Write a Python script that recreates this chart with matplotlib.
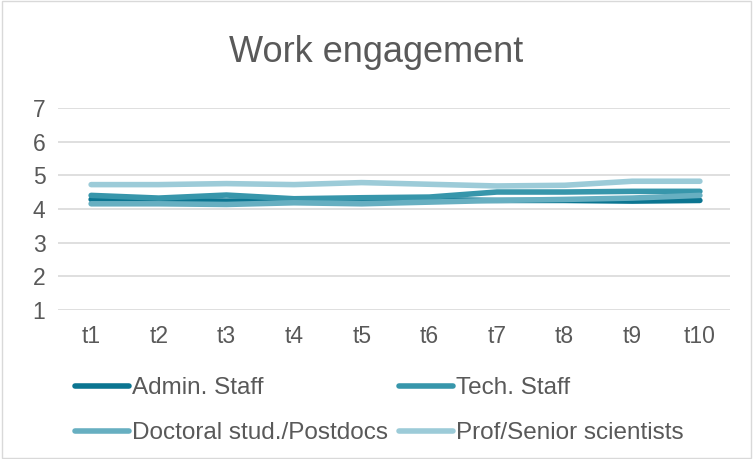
import matplotlib.pyplot as plt
import matplotlib.patches as patches

plt.rcParams['font.family'] = ['Liberation Sans', 'DejaVu Sans']

times = ['t1', 't2', 't3', 't4', 't5', 't6', 't7', 't8', 't9', 't10']
admin = [4.28, 4.25, 4.23, 4.25, 4.28, 4.27, 4.25, 4.25, 4.23, 4.25]
tech = [4.40, 4.32, 4.41, 4.30, 4.33, 4.35, 4.50, 4.50, 4.52, 4.52]
doctoral = [4.15, 4.15, 4.13, 4.18, 4.15, 4.20, 4.25, 4.28, 4.32, 4.40]
prof = [4.72, 4.72, 4.75, 4.72, 4.78, 4.73, 4.68, 4.70, 4.82, 4.82]

series = [
    ('Admin. Staff', admin, '#0b7591'),
    ('Tech. Staff', tech, '#3796ab'),
    ('Doctoral stud./Postdocs', doctoral, '#67afc1'),
    ('Prof/Senior scientists', prof, '#9ccbd8'),
]

fig = plt.figure(figsize=(7.53, 4.59), dpi=100)
ax = fig.add_axes([0.077, 0.325, 0.892, 0.44])

x = range(len(times))
lines = []
for name, vals, col in series:
    ln, = ax.plot(x, vals, color=col, linewidth=4.0, solid_capstyle='round', label=name)
    lines.append(ln)

ax.set_ylim(1, 7)
ax.set_yticks(range(1, 8))
ax.set_xlim(-0.49, 9.44)
ax.set_xticks(list(x))
ax.set_xticklabels(times)
ax.grid(axis='y', color='#d9d9d9', linewidth=1.2)
ax.set_axisbelow(True)
for s in ax.spines.values():
    s.set_visible(False)
ax.tick_params(length=0, labelsize=16.5, colors='#595959')
ax.tick_params(axis='x', pad=11)
ax.tick_params(axis='y', pad=9)

fig.text(0.5, 0.885, 'Work engagement', ha='center', va='center', fontsize=26, color='#595959')

# legend is filled row by row in the reference
order = [0, 2, 1, 3]
leg = fig.legend([lines[i] for i in order], [series[i][0] for i in order],
                 loc='upper left', bbox_to_anchor=(0.099, 0.178), ncol=2, frameon=False,
                 fontsize=17.5, handlelength=2.25, handletextpad=0.1, columnspacing=0.45,
                 labelspacing=0.95, borderaxespad=0, borderpad=0)
for t in leg.get_texts():
    t.set_color('#595959')

fig.patches.append(patches.Rectangle((0.003, 0.003), 0.994, 0.994, transform=fig.transFigure,
                                     fill=False, edgecolor='#d9d9d9', linewidth=1))

fig.savefig('out.png', dpi=100)
